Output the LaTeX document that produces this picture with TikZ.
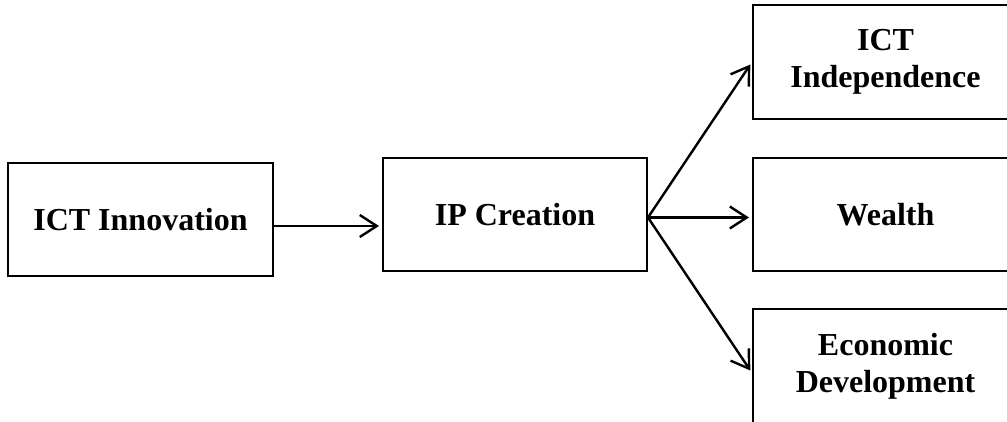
\documentclass[tikz,border=0pt]{standalone}
\usepackage{fontspec}
\setmainfont{Liberation Serif}
\usetikzlibrary{arrows.meta,calc}
\tikzset{
  box/.style={draw=black,line width=2pt,minimum width=#1,inner sep=0pt,align=center,
    font=\fontsize{32}{37}\selectfont\bfseries},
  box/.default=265pt,
  conn/.style={draw=black,line width=2.4pt,-{Straight Barb[length=17pt,width=22pt]},shorten >=3pt}
}
\begin{document}
\begin{tikzpicture}[x=1pt,y=1pt]
\useasboundingbox (0,0) rectangle (1007,421);
\clip (0,0) rectangle (1007,421);
\node[box=265pt,minimum height=113pt] (inn) at (140.5,201.5) {ICT Innovation};
\node[box=264pt,minimum height=113pt] (ip) at (515,206.5) {IP Creation};
\node[box=265pt,minimum height=114pt] (ind) at (885.5,359) {ICT\\Independence};
\node[box=265pt,minimum height=113pt] (wea) at (885.5,206.5) {Wealth};
\node[box=265pt,minimum height=114pt] (eco) at (885.5,55) {Economic\\Development};
\coordinate (a0) at ($(inn.east)+(0,-6.5)$);
\coordinate (f0) at ($(ip.east)+(0,-3)$);
\path[conn] (a0) -- (a0 -| ip.west);
\path[conn] (f0) -- (ind.west);
\path[conn] (f0) -- (f0 -| wea.west);
\path[conn] (f0) -- ($(eco.west)+(0,-7)$);
\end{tikzpicture}
\end{document}
